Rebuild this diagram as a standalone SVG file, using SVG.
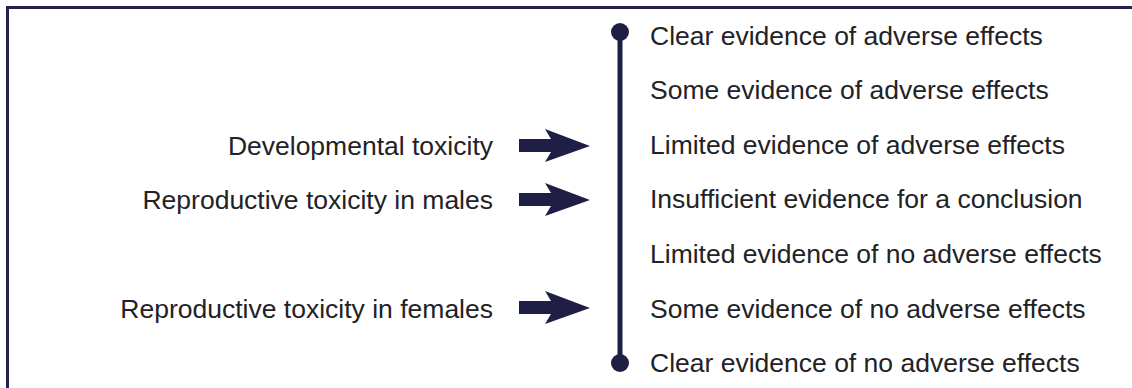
<svg xmlns="http://www.w3.org/2000/svg" width="1132" height="388" viewBox="0 0 1132 388">
<style>
.t{font-family:"Liberation Sans",Arial,sans-serif;font-size:26.5px;fill:#222226}
.l{text-anchor:end}
.ar{fill:#1f1f45}
</style>
<defs>
<path id="arrow" d="M0,-7 L32,-7 L26,-17 L71,0 L26,16 L32,6 L0,6 Z"/>
</defs>
<rect x="1" y="1" width="1131" height="387" fill="#ffffff"/>
<rect x="7.5" y="7.5" width="1200" height="500" fill="none" stroke="#22224a" stroke-width="3"/>
<g id="scale">
<line x1="620" y1="32" x2="620" y2="363" stroke="#1f1f45" stroke-width="5"/>
<circle cx="620" cy="32" r="9" fill="#1f1f45"/>
<circle cx="620" cy="363" r="9" fill="#1f1f45"/>
</g>
<g id="levels">
<text class="t" x="650" y="45">Clear evidence of adverse effects</text>
<text class="t" x="650" y="99">Some evidence of adverse effects</text>
<text class="t" x="650" y="154">Limited evidence of adverse effects</text>
<text class="t" x="650" y="208">Insufficient evidence for a conclusion</text>
<text class="t" x="650" y="263">Limited evidence of no adverse effects</text>
<text class="t" x="650" y="318">Some evidence of no adverse effects</text>
<text class="t" x="650" y="372">Clear evidence of no adverse effects</text>
</g>
<g id="node-dev"><text class="t l" x="493" y="155">Developmental toxicity</text></g>
<g id="node-male"><text class="t l" x="493" y="209">Reproductive toxicity in males</text></g>
<g id="node-female"><text class="t l" x="493" y="318">Reproductive toxicity in females</text></g>
<g id="connectors" class="ar">
<use href="#arrow" x="519" y="146"/>
<use href="#arrow" x="519" y="200"/>
<use href="#arrow" x="519" y="308"/>
</g>
</svg>
